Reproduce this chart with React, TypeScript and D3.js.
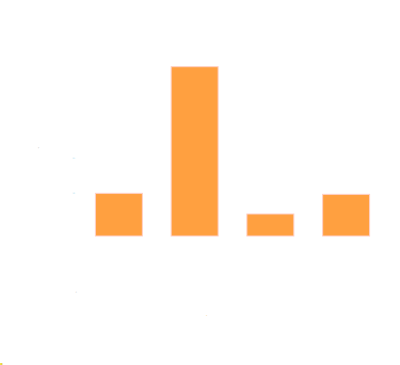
import React from "react";
import * as d3 from "d3";

const categories = ["A", "B", "C", "D"];
const values = [25.2, 100, 13, 24.6];
const yTickLabels = ["50", "25"];

const W = 400;
const H = 365;

export default function App() {
  const x = d3
    .scaleBand<string>()
    .domain(categories)
    .range([81, 384])
    .paddingInner(0.38)
    .paddingOuter(0.19);
  const y = d3.scaleLinear().domain([0, 100]).range([236, 66.7]);

  return (
    <svg
      width={W}
      height={H}
      style={{ position: "absolute", left: 0, top: 0, background: "#fff" }}
      fontFamily="DejaVu Sans"
    >
      {categories.map((c, i) => (
        <rect
          key={c}
          x={x(c)}
          y={y(values[i])}
          width={x.bandwidth()}
          height={y(0) - y(values[i])}
          fill="#ffa040"
          stroke="#ffd0c8"
          strokeWidth={1}
        />
      ))}
      <text x={38} y={148} fontSize={2} fill="#aaa">
        y
      </text>
      {yTickLabels.map((t, i) => (
        <text key={t} x={72.5} y={159 + i * 35} fontSize={2} fill="#aee0f0">
          {t}
        </text>
      ))}
      <text x={75.5} y={293} fontSize={2} fill="#bbb">
        0
      </text>
      <text x={206} y={316} fontSize={2} fill="#f3c070">
        x
      </text>
      <text x={0} y={364.5} fontSize={3} fill="#e8d840">
        ■
      </text>
    </svg>
  );
}
